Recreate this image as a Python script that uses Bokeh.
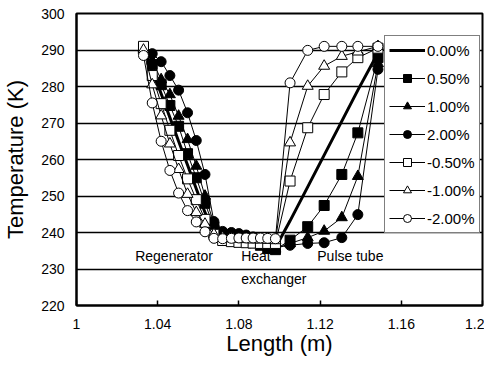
from bokeh.plotting import figure
from bokeh.models import Range1d, FixedTicker, Label, Legend, LegendItem
from bokeh.embed import file_html
from bokeh.resources import INLINE

# Positions along the cooler (m): regenerator, heat exchanger, pulse tube
length_m = [1.0330, 1.0373, 1.0417, 1.0460, 1.0503, 1.0547, 1.0590, 1.0633, 1.0677, 1.0720,
            1.0763, 1.0800, 1.0836, 1.0870, 1.0906, 1.0942,
            1.0980, 1.1052, 1.1139, 1.1220, 1.1307, 1.1386, 1.1485]

t_0p00 = [290.5, 284.5, 278.0, 271.5, 265.0, 258.5, 252.0, 245.5, 240.5, 238.5,
          238.0, 237.6, 237.2, 236.8, 236.5, 236.2,
          235.8, 243.2, 252.5, 261.2, 270.5, 279.0, 289.2]
t_0p50 = [290.5, 286.0, 280.5, 274.8, 269.1, 261.6, 255.0, 248.0, 241.5, 239.0,
          238.6, 238.2, 237.7, 237.2, 236.5, 235.6,
          235.3, 237.9, 241.6, 247.4, 255.9, 267.3, 287.9]
t_1p00 = [290.5, 287.0, 281.9, 277.8, 271.9, 265.5, 258.2, 250.0, 242.5, 239.6,
          239.2, 238.8, 238.4, 237.9, 237.2, 236.3,
          235.5, 237.0, 238.6, 240.4, 244.1, 255.4, 286.3]
t_2p00 = [290.5, 289.0, 286.8, 283.0, 279.0, 272.8, 265.2, 255.9, 243.0, 240.3,
          240.0, 239.7, 239.3, 238.8, 238.2, 237.2,
          236.0, 236.5, 237.0, 237.2, 238.6, 244.9, 284.7]
t_m0p50 = [291.0, 283.0, 275.3, 268.0, 261.1, 254.7, 249.0, 243.6, 239.5, 237.8,
           237.5, 237.3, 237.2, 237.1, 237.0, 237.0,
           237.0, 254.1, 268.7, 277.8, 284.0, 287.9, 290.5]
t_m1p00 = [290.0, 280.5, 272.0, 264.3, 257.3, 250.5, 245.5, 242.3, 239.5, 238.6,
           238.3, 238.2, 238.1, 238.0, 238.0, 237.9,
           237.8, 264.6, 280.1, 285.6, 288.3, 289.5, 291.0]
t_m2p00 = [288.5, 275.5, 265.0, 257.0, 250.8, 246.0, 242.9, 240.2, 238.4, 238.3,
           238.4, 238.5, 238.5, 238.5, 238.5, 238.4,
           238.3, 281.0, 289.9, 291.0, 291.0, 291.0, 291.0]

series_labels = ["0.00%", "0.50%", "1.00%", "2.00%", "-0.50%", "-1.00%", "-2.00%"]
series_values = [t_0p00, t_0p50, t_1p00, t_2p00, t_m0p50, t_m1p00, t_m2p00]
series_markers = [None, "square", "triangle", "circle", "square", "triangle", "circle"]
series_fill = [None, "black", "black", "black", "white", "white", "white"]

x_ticks = [1.0, 1.04, 1.08, 1.12, 1.16, 1.2]
x_tick_labels = ["1", "1.04", "1.08", "1.12", "1.16", "1.2"]
y_ticks = [220, 230, 240, 250, 260, 270, 280, 290, 300]

annotations = [("Regenerator", 1.0289, 233.5), ("Heat", 1.0811, 233.5),
               ("exchanger", 1.0811, 227.3), ("Pulse tube", 1.1186, 233.5)]

FONT = "Liberation Sans"

p = figure(width=484, height=359, x_range=Range1d(1.0, 1.2), y_range=Range1d(220, 300),
           output_backend="svg", toolbar_location=None,
           min_border_left=71, min_border_right=2, min_border_top=13, min_border_bottom=54)
p.background_fill_color = "white"
p.outline_line_color = "black"
p.outline_line_width = 2

p.xgrid.grid_line_color = None
p.ygrid.grid_line_color = "black"
p.ygrid.grid_line_width = 1.5
p.ygrid.ticker = FixedTicker(ticks=y_ticks)

p.xaxis.ticker = FixedTicker(ticks=x_ticks)
p.xaxis.major_label_overrides = {t: l for t, l in zip(x_ticks, x_tick_labels)}
p.xaxis.major_tick_in = 5
p.xaxis.major_tick_out = 0
p.xaxis.minor_tick_line_color = None
p.xaxis.major_tick_line_color = "black"
p.xaxis.major_tick_line_width = 1.5
p.xaxis.major_label_standoff = 13
p.xaxis.axis_label = "Length (m)"
p.xaxis.axis_label_standoff = -1

p.yaxis.ticker = FixedTicker(ticks=y_ticks)
p.yaxis.major_tick_in = 0
p.yaxis.major_tick_out = 0
p.yaxis.minor_tick_line_color = None
p.yaxis.major_label_standoff = 12
p.yaxis.axis_label = "Temperature (K)"
p.yaxis.axis_label_standoff = 10

for ax in (p.xaxis[0], p.yaxis[0]):
    ax.axis_line_color = "black"
    ax.axis_line_width = 2
    ax.major_label_text_font = FONT
    ax.major_label_text_font_size = "14px"
    ax.major_label_text_color = "black"
    ax.axis_label_text_font = FONT
    ax.axis_label_text_font_size = "22px"
    ax.axis_label_text_font_style = "normal"
    ax.axis_label_text_color = "black"

items = []
for lab, vals, mk, fc in zip(series_labels, series_values, series_markers, series_fill):
    rs = []
    if mk is None:
        rs.append(p.line(length_m, vals, line_color="black", line_width=3))
    else:
        rs.append(p.line(length_m, vals, line_color="black", line_width=1))
        size = 10 if mk != "triangle" else 11
        rs.append(p.scatter(length_m, vals, marker=mk, size=size, fill_color=fc,
                            line_color="black", line_width=1))
    items.append(LegendItem(label=lab, renderers=rs))

for txt, xx, yy in annotations:
    p.add_layout(Label(x=xx, y=yy, text=txt, text_font=FONT, text_font_size="14px",
                       text_baseline="middle", text_align="left", text_color="black"))

legend = Legend(items=items, location=(308, 72))
legend.label_text_font = FONT
legend.label_text_font_size = "15px"
legend.label_text_color = "black"
legend.padding = 4
legend.spacing = 8
legend.glyph_width = 36
legend.glyph_height = 20
legend.label_height = 20
legend.label_standoff = 2
legend.border_line_color = "black"
legend.border_line_width = 1.5
legend.background_fill_color = "white"
legend.background_fill_alpha = 1.0
legend.margin = 0
p.add_layout(legend)

open("out.html", "w").write(file_html(p, INLINE))
